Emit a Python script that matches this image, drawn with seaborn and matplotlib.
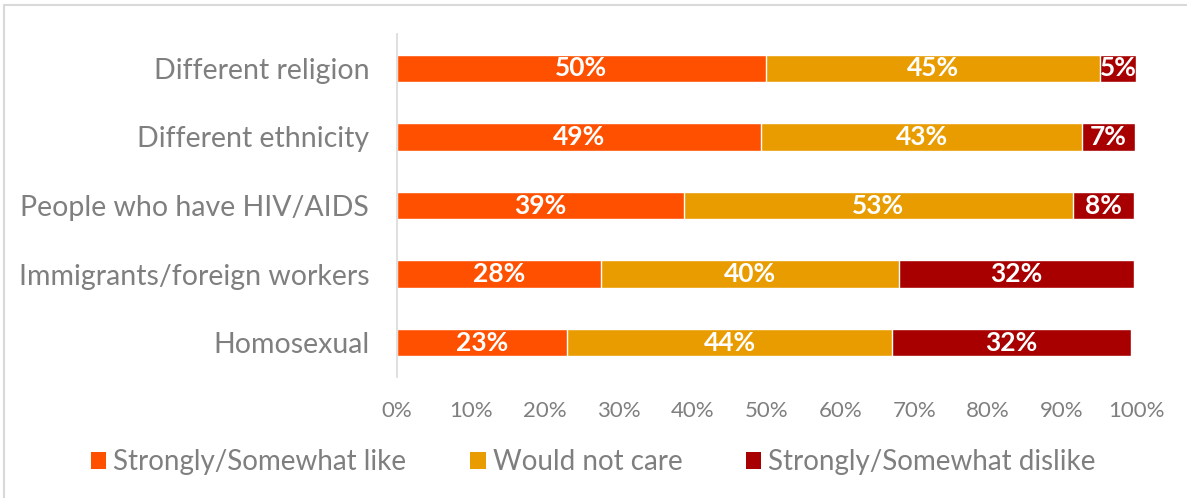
"""
Stacked horizontal bars: attitudes towards different neighbours
"""

import numpy as np
import pandas as pd
import matplotlib
matplotlib.use('Agg')
import matplotlib.pyplot as plt
from matplotlib.patches import Patch
import seaborn as sns

# Data (percent of respondents)
categories = ['Different religion', 'Different ethnicity', 'People who have HIV/AIDS',
              'Immigrants/foreign workers', 'Homosexual']
like = [49.9, 49.3, 38.8, 27.6, 23.0]
not_care = [45.2, 43.4, 52.7, 40.3, 44.0]
dislike = [4.9, 7.2, 8.2, 31.8, 32.3]

series_names = ['Strongly/Somewhat like', 'Would not care', 'Strongly/Somewhat dislike']
colors = ['#FF5000', '#E89C00', '#A80000']
tick_labels = [f'{t}%' for t in range(0, 101, 10)]

df = pd.DataFrame({'category': categories,
                   series_names[0]: like,
                   series_names[1]: not_care,
                   series_names[2]: dislike})

# Cumulative sums for stacking
cum = df[series_names].cumsum(axis=1)

sns.set_style('white')
plt.rcParams['font.family'] = ['Lato', 'DejaVu Sans']

fig = plt.figure(figsize=(11.87, 4.98), dpi=100)
ax = fig.add_axes([397 / 1187, 1 - 377 / 498, (1136 - 397) / 1187, (377 - 34) / 498])

# Draw from the longest cumulative bar to the shortest so each segment shows
for name, color in zip(series_names[::-1], colors[::-1]):
    sns.barplot(x=cum[name], y=df['category'], orient='h', color=color,
                width=0.4, ax=ax, saturation=1)

# Segment labels
for i, row in df.iterrows():
    start = 0
    for name in series_names:
        val = row[name]
        ax.text(start + val / 2, i, f'{val:.0f}%', ha='center', va='center',
                color='white', fontsize=19, fontweight='bold')
        start += val

ax.set_xlim(0, 100)
ax.set_ylim(4.5, -0.5)
ax.set_xticks(range(0, 101, 10))
ax.set_xticklabels(tick_labels, fontsize=16, color='#7F7F7F')
ax.tick_params(axis='y', labelsize=20.5, colors='#7F7F7F', length=0, pad=20)
ax.tick_params(axis='x', length=0, pad=17)
ax.set_xlabel('')
ax.set_ylabel('')

for s in ['top', 'right', 'bottom']:
    ax.spines[s].set_visible(False)
ax.spines['left'].set_color('#D9D9D9')
ax.spines['left'].set_linewidth(1.2)

# Legend
handles = [Patch(facecolor=c, edgecolor='none', label=n) for n, c in zip(series_names, colors)]
leg = fig.legend(handles=handles, loc='center', bbox_to_anchor=(0.5, 1 - 462 / 498),
                 ncol=3, frameon=False, fontsize=20, handlelength=0.55, handleheight=0.55,
                 handletextpad=0.25, columnspacing=2.3)
for t in leg.get_texts():
    t.set_color('#7F7F7F')

# Light frame around the slide region
fig.add_artist(plt.Line2D([4 / 1187, 4 / 1187], [0, 1 - 5 / 498], transform=fig.transFigure,
                          color='#D9D9D9', linewidth=1.5))
fig.add_artist(plt.Line2D([4 / 1187, 1], [1 - 5 / 498, 1 - 5 / 498], transform=fig.transFigure,
                          color='#D9D9D9', linewidth=1.5))

plt.savefig('out.png', dpi=100)
